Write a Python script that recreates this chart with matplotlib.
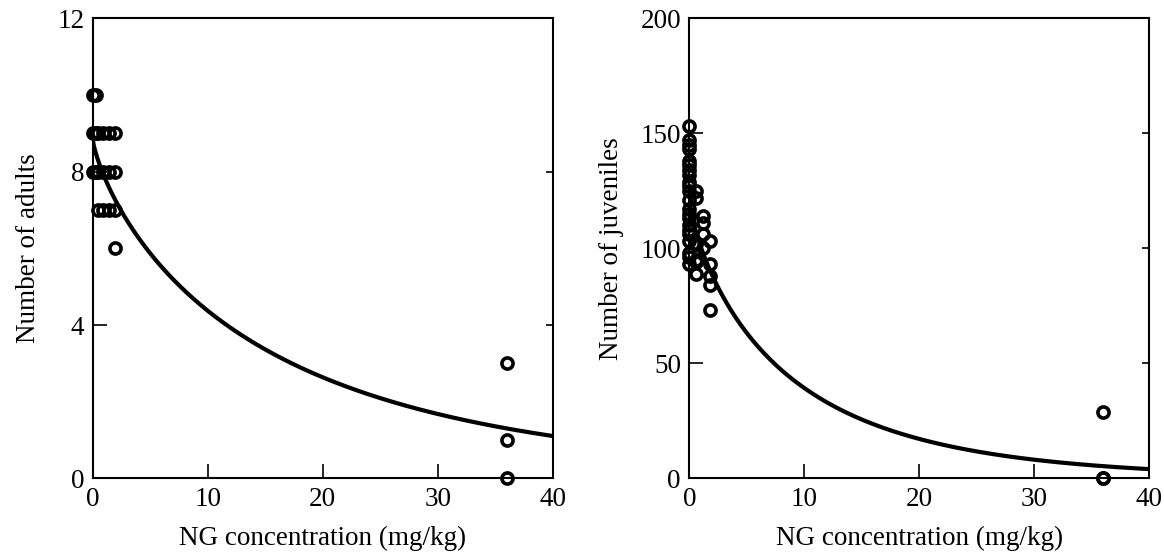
import numpy as np
import matplotlib
matplotlib.use("Agg")
import matplotlib.pyplot as plt

plt.rcParams['font.family'] = ['Liberation Serif', 'DejaVu Serif']

# adults (left panel)
adult_conc = [0, 0, 0, 0.25, 0.25, 0.25,
              0.5, 0.5, 0.5, 0.9, 0.9, 0.9,
              1.45, 1.45, 1.45, 1.95, 1.95, 1.95, 1.9,
              36, 36, 36]
adult_count = [10, 9, 8, 10, 9, 8,
               9, 8, 7, 9, 8, 7,
               9, 8, 7, 9, 8, 7, 6,
               3, 1, 0]

# juveniles (right panel)
juv_conc = [0] * 22 + [0.6] * 6 + [1.2] * 4 + [1.8] * 5 + [36, 36, 36]
juv_count = [153, 147, 145, 143, 138, 136, 134, 132, 129, 127, 125,
             121, 117, 115, 113, 110, 108, 106, 103, 98, 96, 93,
             125, 122, 102, 95, 94, 89,
             114, 111, 106, 100,
             103, 93, 88, 84, 73,
             29, 0, 0]

# fitted decay curves: y = a * exp(-k * x**b)
adult_fit = (8.85, 0.117, 0.78)
juv_fit = (120.0, 0.177, 0.80)

x_ticks = [0, 10, 20, 30, 40]
adult_ticks = [0, 4, 8, 12]
juv_ticks = [0, 50, 100, 150, 200]

fig = plt.figure(figsize=(11.64, 5.52), dpi=100)
ax1 = fig.add_axes([0.0796, 0.1332, 0.3952, 0.834])
ax2 = fig.add_axes([0.5922, 0.1332, 0.3952, 0.834])

xs = np.linspace(0, 40, 400)

for ax, conc, cnt, fit, yt, ylab in [
        (ax1, adult_conc, adult_count, adult_fit, adult_ticks, "Number of adults"),
        (ax2, juv_conc, juv_count, juv_fit, juv_ticks, "Number of juveniles")]:
    a, k, b = fit
    ax.plot(xs, a * np.exp(-k * xs ** b), color='black', lw=3, zorder=2)
    ax.plot(conc, cnt, 'o', mfc='none', mec='black', ms=8, mew=2.6,
            clip_on=False, zorder=3)
    ax.set_xlim(0, 40)
    ax.set_ylim(yt[0], yt[-1])
    ax.set_xticks(x_ticks)
    ax.set_yticks(yt)
    ax.tick_params(direction='in', length=10, width=1.2, labelsize=19.5,
                   pad=6, right=True)
    for t in ax.yaxis.get_major_ticks():
        t.tick2line.set_markersize(5)
    for sp in ax.spines.values():
        sp.set_linewidth(1.5)
    ax.set_xlabel("NG concentration (mg/kg)", fontsize=19.5, labelpad=10)
    ax.set_ylabel(ylab, fontsize=19.5, labelpad=12)

fig.savefig("out.png", dpi=100)
